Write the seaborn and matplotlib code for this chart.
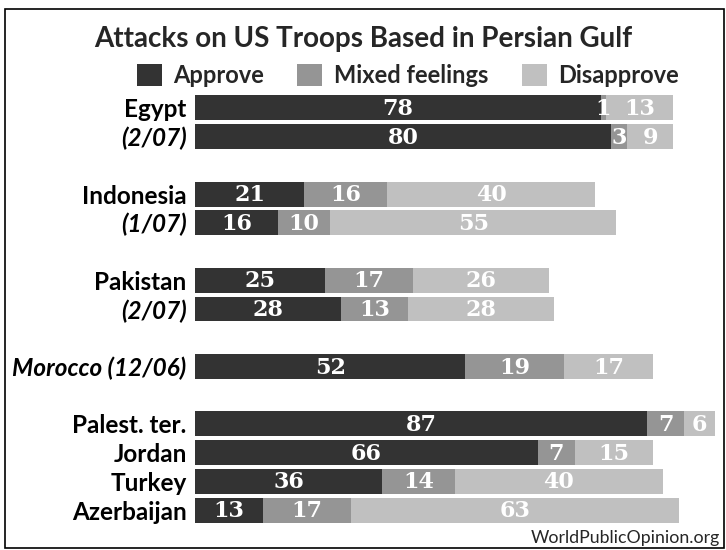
import pandas as pd
import numpy as np
import seaborn as sns
import matplotlib.pyplot as plt
from matplotlib.patches import Patch, Rectangle

# Survey rows, top to bottom
labels = ["Egypt", "(2/07)", "Indonesia", "(1/07)", "Pakistan", "(2/07)",
          "Morocco (12/06)", "Palest. ter.", "Jordan", "Turkey", "Azerbaijan"]
italic_rows = ["(2/07)", "(1/07)", "Morocco (12/06)"]
group_sizes = [2, 2, 2, 1, 4]
approve = [78, 80, 21, 16, 25, 28, 52, 87, 66, 36, 13]
mixed = [1, 3, 16, 10, 17, 13, 19, 7, 7, 14, 17]
disapprove = [13, 9, 40, 55, 26, 28, 17, 6, 15, 40, 63]

series = ["Approve", "Mixed feelings", "Disapprove"]
colors = ["#333333", "#959595", "#c0c0c0"]

# slot order with an empty slot between groups
order, tick_text = [], []
i = 0
for g, n in enumerate(group_sizes):
    if g > 0:
        order.append(f"gap{g}")
        tick_text.append("")
    for _ in range(n):
        order.append(f"row{i}")
        tick_text.append(labels[i])
        i += 1

df = pd.DataFrame({"key": [f"row{k}" for k in range(len(labels))],
                   "approve": approve, "mixed": mixed, "disapprove": disapprove})
df["am"] = df["approve"] + df["mixed"]
df["total"] = df["am"] + df["disapprove"]

sns.set_style("white")
plt.rcParams['font.family'] = ['Lato', 'DejaVu Sans']

fig = plt.figure(figsize=(7.26, 5.5), dpi=100)
ax = fig.add_axes([195 / 726, 1 - 524.4 / 550, 520 / 726, 430.8 / 550])

# stacked look: draw cumulative totals back to front
for col, c in zip(["total", "am", "approve"], colors[::-1]):
    sns.barplot(data=df, x=col, y="key", order=order, orient="h", color=c,
                saturation=1, width=0.87, ax=ax, errorbar=None,
                linewidth=0, edgecolor="none")

# value labels
for _, r in df.iterrows():
    y = order.index(r["key"])
    starts = [0, r["approve"], r["am"]]
    for s, v in zip(starts, [r["approve"], r["mixed"], r["disapprove"]]):
        ax.text(s + v / 2, y + 0.04, f"{v}", ha="center", va="center",
                color="white", fontsize=16, fontweight="bold",
                family="DejaVu Serif")

ax.set_xlim(0, 100)
ax.set_ylim(len(order) - 0.5, -0.5)
ax.set_yticks(range(len(order)))
ax.set_yticklabels(tick_text)
for t in ax.get_yticklabels():
    t.set_fontsize(17.5)
    t.set_fontweight("bold")
    t.set_color("black")
    if t.get_text() in italic_rows:
        t.set_fontstyle("italic")
ax.tick_params(axis="y", length=0, pad=6)
ax.set_xticks([])
ax.set_xlabel("")
ax.set_ylabel("")
sns.despine(ax=ax, left=True, bottom=True)

fig.text(0.5, 1 - 47 / 550, "Attacks on US Troops Based in Persian Gulf",
         ha="center", va="baseline", fontsize=20, fontweight="bold")

handles = [Patch(facecolor=c, edgecolor="none", label=s) for s, c in zip(series, colors)]
fig.legend(handles=handles, loc="center", bbox_to_anchor=(0.562, 0.862), ncol=3,
           frameon=False, handlelength=1.06, handleheight=1.06,
           handletextpad=0.5, columnspacing=1.4,
           prop={"weight": "bold", "size": 17})

fig.text(720 / 726, 1 - 546 / 550, "WorldPublicOpinion.org", ha="right",
         va="bottom", fontsize=12.8)

fig.patches.append(Rectangle((5 / 726, 1 - 548 / 550), 719 / 726, 539 / 550,
                             transform=fig.transFigure, fill=False,
                             edgecolor="black", linewidth=1.2))

fig.savefig("out.png", dpi=100)
